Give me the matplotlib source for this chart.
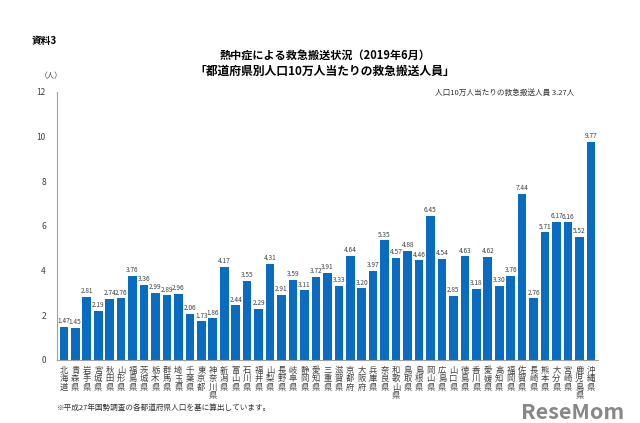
import numpy as np
import matplotlib.pyplot as plt

plt.rcParams['font.family'] = ['Noto Sans CJK JP', 'DejaVu Sans']

# 都道府県別人口10万人当たりの救急搬送人員（2019年6月）
prefectures = ['北海道', '青森県', '岩手県', '宮城県', '秋田県', '山形県', '福島県',
               '茨城県', '栃木県', '群馬県', '埼玉県', '千葉県', '東京都', '神奈川県',
               '新潟県', '富山県', '石川県', '福井県', '山梨県', '長野県', '岐阜県',
               '静岡県', '愛知県', '三重県', '滋賀県', '京都府', '大阪府', '兵庫県',
               '奈良県', '和歌山県', '鳥取県', '島根県', '岡山県', '広島県', '山口県',
               '徳島県', '香川県', '愛媛県', '高知県', '福岡県', '佐賀県', '長崎県',
               '熊本県', '大分県', '宮崎県', '鹿児島県', '沖縄県']
values = [1.47, 1.45, 2.81, 2.19, 2.74, 2.76, 3.76,
          3.36, 2.99, 2.89, 2.96, 2.06, 1.73, 1.86,
          4.17, 2.44, 3.55, 2.29, 4.31, 2.91, 3.59,
          3.11, 3.72, 3.91, 3.33, 4.64, 3.20, 3.97,
          5.35, 4.57, 4.88, 4.46, 6.45, 4.54, 2.85,
          4.63, 3.18, 4.62, 3.30, 3.76, 7.44, 2.76,
          5.71, 6.17, 6.16, 5.52, 9.77]
yticks = [0, 2, 4, 6, 8, 10, 12]

fig = plt.figure(figsize=(6.4, 4.23), dpi=100)
ax = fig.add_axes([0.089, 0.149, 0.845, 0.634])

x = np.arange(len(values))
ax.bar(x, values, width=0.75, color='#0A6CC0')

for xi, v in zip(x, values):
    ax.text(xi, v + 0.08, f'{v:.2f}', ha='center', va='bottom',
            fontsize=4.7, color='#404040')

ax.set_xlim(-0.6, len(values) - 0.4)
ax.set_ylim(0, 12)
ax.set_yticks(yticks)
ax.set_yticklabels([str(t) for t in yticks], fontsize=6, color='#404040')
ax.set_xticks(x)
ax.set_xticklabels(['\n'.join(p) for p in prefectures], fontsize=6,
                   color='#404040', linespacing=0.95, va='top')
ax.tick_params(axis='x', length=0, pad=4)
ax.tick_params(axis='y', length=0, pad=8)

for s in ['top', 'right']:
    ax.spines[s].set_visible(False)
for s in ['left', 'bottom']:
    ax.spines[s].set_color('#A0A0A0')
    ax.spines[s].set_linewidth(0.8)

fig.text(0.05, 0.895, '資料3', fontsize=7, fontweight='bold', ha='left')
fig.text(0.508, 0.862, '熱中症による救急搬送状況（2019年6月）', fontsize=8,
         fontweight='bold', ha='center')
fig.text(0.508, 0.822, '「都道府県別人口10万人当たりの救急搬送人員」', fontsize=8.5,
         fontweight='bold', ha='center')
fig.text(0.062, 0.815, '（人）', fontsize=5.5, color='#404040', ha='left')
fig.text(0.898, 0.775, '人口10万人当たりの救急搬送人員 3.27人', fontsize=5.5,
         color='#303030', ha='right')
fig.text(0.089, 0.03, '※平成27年国勢調査の各都道府県人口を基に算出しています。',
         fontsize=5.5, color='#303030', ha='left')
fig.text(0.975, 0.0, 'ReseMom', fontsize=15.5, fontweight='bold',
         color='#7a7a7a', ha='right', va='bottom', alpha=0.9)

fig.savefig('out.png', dpi=100)
